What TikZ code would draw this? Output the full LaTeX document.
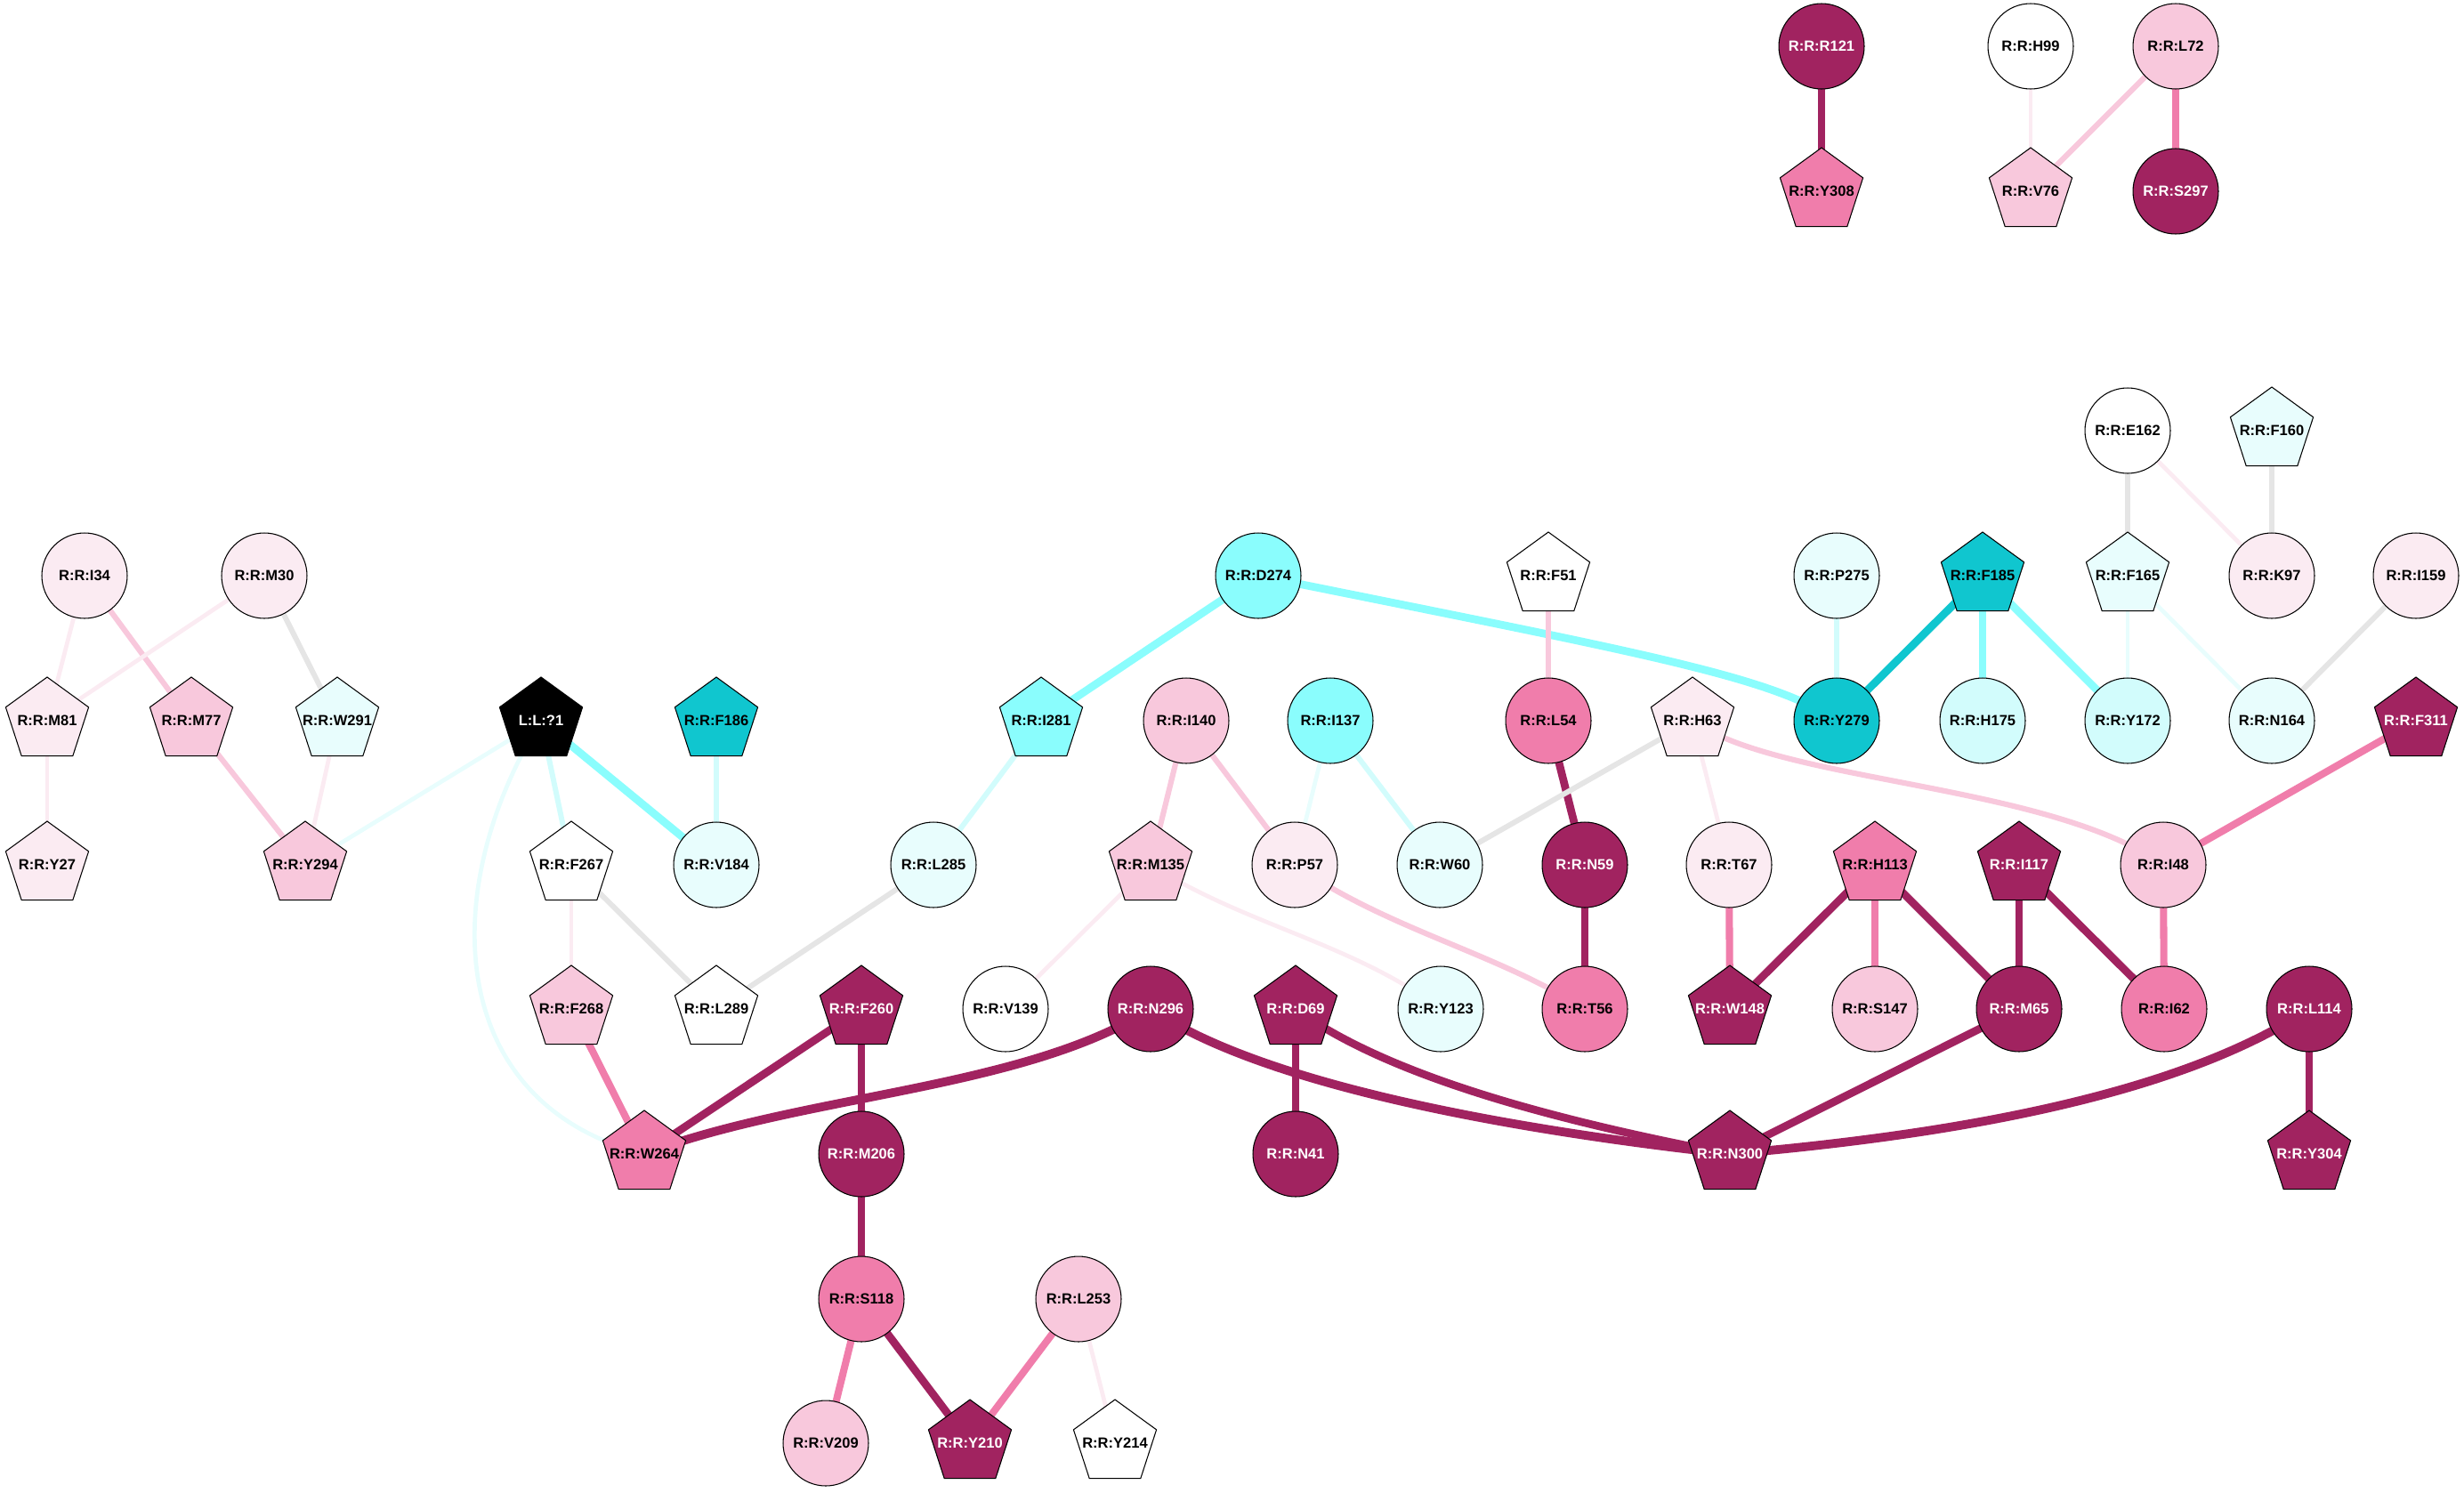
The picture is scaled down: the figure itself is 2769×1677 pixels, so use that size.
\documentclass[tikz,border=0pt]{standalone}
\usepackage{fontspec}
\setmainfont{Liberation Sans}
\usetikzlibrary{shapes.geometric,backgrounds}
\definecolor{dk}{HTML}{A12360}
\definecolor{md}{HTML}{F07DAB}
\definecolor{lt}{HTML}{F8C8DC}
\definecolor{vl}{HTML}{FBEBF2}
\definecolor{tl}{HTML}{10C6CF}
\definecolor{cy}{HTML}{8AFDFD}
\definecolor{lc}{HTML}{D2FCFC}
\definecolor{vc}{HTML}{E8FDFD}
\definecolor{gr}{HTML}{E5E5E5}
\newcommand\pl[1]{\makebox[0pt]{#1}}
\tikzset{res/.style = {circle, draw, line width=0.6pt, minimum size=1.92cm, inner sep=0pt,
                       font=\bfseries\fontsize{9.4}{11}\selectfont},
         pent/.style = {res, regular polygon, regular polygon sides=5, minimum size=1.96cm},
         wt/.style = {text=white},
         edk/.style = {draw=dk, line width=5pt},
         emd/.style = {draw=md, line width=4.6pt},
         elt/.style = {draw=lt, line width=3.5pt},
         evl/.style = {draw=vl, line width=2.7pt},
         ecy/.style = {draw=cy, line width=5pt},
         etl/.style = {draw=tl, line width=5pt},
         elc/.style = {draw=lc, line width=3.4pt},
         evc/.style = {draw=vc, line width=2.7pt},
         egr/.style = {draw=gr, line width=3.4pt}}

\begin{document}
\begin{tikzpicture}[x=0.02cm, y=-0.02cm]
\useasboundingbox (0,0) rectangle (2769,1677);
\node[res, fill=dk, wt] (r121) at (2047,52) {R:R:R121};
\node[res, fill=white] (h99) at (2282,52) {R:R:H99};
\node[res, fill=lt] (l72) at (2445,52) {R:R:L72};
\node[pent, fill=md] (y308) at (2047,215) {\pl{R:R:Y308}};
\node[pent, fill=lt] (v76) at (2282,215) {\pl{R:R:V76}};
\node[res, fill=dk, wt] (s297) at (2445,215) {R:R:S297};
\node[res, fill=white] (e162) at (2391,484) {R:R:E162};
\node[pent, fill=vc] (f160) at (2553,484) {\pl{R:R:F160}};
\node[res, fill=vl] (i34) at (95,647) {R:R:I34};
\node[res, fill=vl] (m30) at (297,647) {R:R:M30};
\node[res, fill=cy] (d274) at (1414,647) {R:R:D274};
\node[pent, fill=white] (f51) at (1740,647) {\pl{R:R:F51}};
\node[res, fill=vc] (p275) at (2064,647) {R:R:P275};
\node[pent, fill=tl] (f185) at (2228,647) {\pl{R:R:F185}};
\node[pent, fill=vc] (f165) at (2391,647) {\pl{R:R:F165}};
\node[res, fill=vl] (k97) at (2553,647) {R:R:K97};
\node[res, fill=vl] (i159) at (2715,647) {R:R:I159};
\node[pent, fill=vl] (m81) at (53,810) {\pl{R:R:M81}};
\node[pent, fill=lt] (m77) at (215,810) {\pl{R:R:M77}};
\node[pent, fill=vc] (w291) at (379,810) {\pl{R:R:W291}};
\node[pent, fill=black, wt] (lig) at (608,810) {\pl{L:L:?1}};
\node[pent, fill=tl] (f186) at (805,810) {\pl{R:R:F186}};
\node[pent, fill=cy] (i281) at (1170,810) {\pl{R:R:I281}};
\node[res, fill=lt] (i140) at (1333,810) {R:R:I140};
\node[res, fill=cy] (i137) at (1495,810) {R:R:I137};
\node[res, fill=md] (l54) at (1740,810) {R:R:L54};
\node[pent, fill=vl] (h63) at (1902,810) {\pl{R:R:H63}};
\node[res, fill=tl] (y279) at (2064,810) {R:R:Y279};
\node[res, fill=lc] (h175) at (2228,810) {R:R:H175};
\node[res, fill=lc] (y172) at (2391,810) {R:R:Y172};
\node[res, fill=vc] (n164) at (2553,810) {R:R:N164};
\node[pent, fill=dk, wt] (f311) at (2715,810) {\pl{R:R:F311}};
\node[pent, fill=vl] (y27) at (53,972) {\pl{R:R:Y27}};
\node[pent, fill=lt] (y294) at (343,972) {\pl{R:R:Y294}};
\node[pent, fill=white] (f267) at (642,972) {\pl{R:R:F267}};
\node[res, fill=vc] (v184) at (805,972) {R:R:V184};
\node[res, fill=vc] (l285) at (1049,972) {R:R:L285};
\node[pent, fill=lt] (m135) at (1293,972) {\pl{R:R:M135}};
\node[res, fill=vl] (p57) at (1455,972) {R:R:P57};
\node[res, fill=vc] (w60) at (1618,972) {R:R:W60};
\node[res, fill=dk, wt] (n59) at (1781,972) {R:R:N59};
\node[res, fill=vl] (t67) at (1943,972) {R:R:T67};
\node[pent, fill=md] (h113) at (2107,972) {\pl{R:R:H113}};
\node[pent, fill=dk, wt] (i117) at (2269,972) {\pl{R:R:I117}};
\node[res, fill=lt] (i48) at (2431,972) {R:R:I48};
\node[pent, fill=lt] (f268) at (642,1134) {\pl{R:R:F268}};
\node[pent, fill=white] (l289) at (805,1134) {\pl{R:R:L289}};
\node[pent, fill=dk, wt] (f260) at (968,1134) {\pl{R:R:F260}};
\node[res, fill=white] (v139) at (1130,1134) {R:R:V139};
\node[res, fill=dk, wt] (n296) at (1293,1134) {R:R:N296};
\node[pent, fill=dk, wt] (d69) at (1456,1134) {\pl{R:R:D69}};
\node[res, fill=vc] (y123) at (1619,1134) {R:R:Y123};
\node[res, fill=md] (t56) at (1781,1134) {R:R:T56};
\node[pent, fill=dk, wt] (w148) at (1944,1134) {\pl{R:R:W148}};
\node[res, fill=lt] (s147) at (2107,1134) {R:R:S147};
\node[res, fill=dk, wt] (m65) at (2269,1134) {R:R:M65};
\node[res, fill=md] (i62) at (2432,1134) {R:R:I62};
\node[res, fill=dk, wt] (l114) at (2595,1134) {R:R:L114};
\node[pent, fill=md] (w264) at (724,1297) {\pl{R:R:W264}};
\node[res, fill=dk, wt] (m206) at (968,1297) {R:R:M206};
\node[res, fill=dk, wt] (n41) at (1456,1297) {R:R:N41};
\node[pent, fill=dk, wt] (n300) at (1944,1297) {\pl{R:R:N300}};
\node[pent, fill=dk, wt] (y304) at (2595,1297) {\pl{R:R:Y304}};
\node[res, fill=md] (s118) at (968,1460) {R:R:S118};
\node[res, fill=lt] (l253) at (1212,1460) {R:R:L253};
\node[res, fill=lt] (v209) at (928,1622) {R:R:V209};
\node[pent, fill=dk, wt] (y210) at (1090,1622) {\pl{R:R:Y210}};
\node[pent, fill=white] (y214) at (1253,1622) {\pl{R:R:Y214}};
\begin{pgfonlayer}{background}
\draw[edk] (r121.center) -- (y308.center);
\draw[evl] (h99.center) -- (v76.center);
\draw[elt] (l72.center) -- (v76.center);
\draw[emd] (l72.center) -- (s297.center);
\draw[egr] (e162.center) -- (f165.center);
\draw[evl] (e162.center) -- (k97.center);
\draw[egr] (f160.center) -- (k97.center);
\draw[evl] (i34.center) -- (m81.center);
\draw[elt] (i34.center) -- (m77.center);
\draw[evl] (m30.center) -- (m81.center);
\draw[egr] (m30.center) -- (w291.center);
\draw[evl] (m81.center) -- (y27.center);
\draw[elt] (m77.center) -- (y294.center);
\draw[evl] (w291.center) -- (y294.center);
\draw[evc] (lig.center) -- (y294.center);
\draw[elc] (lig.center) -- (f267.center);
\draw[ecy] (lig.center) -- (v184.center);
\draw[evc] (lig.center) .. controls (490,1000) and (500,1240) .. (w264.center);
\draw[elc] (f186.center) -- (v184.center);
\draw[ecy] (d274.center) -- (i281.center);
\draw[ecy] (d274.center) .. controls (1850,735) and (1990,760) .. (y279.center);
\draw[elc] (i281.center) -- (l285.center);
\draw[egr] (l285.center) -- (l289.center);
\draw[egr] (f267.center) -- (l289.center);
\draw[evl] (f267.center) -- (f268.center);
\draw[emd] (f268.center) -- (w264.center);
\draw[edk] (f260.center) -- (w264.center);
\draw[edk, line width=5.6pt] (n296.center) .. controls (1150,1225) and (900,1230) .. (w264.center);
\draw[edk] (f260.center) -- (m206.center);
\draw[edk] (m206.center) -- (s118.center);
\draw[emd] (s118.center) -- (v209.center);
\draw[edk] (s118.center) -- (y210.center);
\draw[emd] (l253.center) -- (y210.center);
\draw[evl] (l253.center) -- (y214.center);
\draw[elt] (i140.center) -- (m135.center);
\draw[elt] (i140.center) -- (p57.center);
\draw[evl] (m135.center) -- (v139.center);
\draw[evl] (m135.center) .. controls (1400,1040) and (1520,1060) .. (y123.center);
\draw[evc] (i137.center) -- (p57.center);
\draw[elc] (i137.center) -- (w60.center);
\draw[elt] (p57.center) .. controls (1560,1045) and (1680,1070) .. (t56.center);
\draw[elt] (f51.center) -- (l54.center);
\draw[edk] (l54.center) -- (n59.center);
\draw[edk] (n59.center) -- (t56.center);
\draw[egr] (h63.center) -- (w60.center);
\draw[evl] (h63.center) -- (t67.center);
\draw[elt] (h63.center) .. controls (2000,880) and (2300,880) .. (i48.center);
\draw[edk, line width=5.6pt] (n296.center) .. controls (1420,1220) and (1700,1270) .. (n300.center);
\draw[edk] (d69.center) -- (n41.center);
\draw[edk] (d69.center) .. controls (1560,1210) and (1750,1260) .. (n300.center);
\draw[elc] (p275.center) -- (y279.center);
\draw[etl] (f185.center) -- (y279.center);
\draw[ecy] (f185.center) -- (h175.center);
\draw[ecy] (f185.center) -- (y172.center);
\draw[evc] (f165.center) -- (y172.center);
\draw[evc] (f165.center) -- (n164.center);
\draw[egr] (i159.center) -- (n164.center);
\draw[emd] (f311.center) -- (i48.center);
\draw[emd] (t67.center) -- (w148.center);
\draw[edk] (h113.center) -- (w148.center);
\draw[emd] (h113.center) -- (s147.center);
\draw[edk] (h113.center) -- (m65.center);
\draw[edk] (i117.center) -- (m65.center);
\draw[edk] (i117.center) -- (i62.center);
\draw[emd] (i48.center) -- (i62.center);
\draw[edk] (m65.center) -- (n300.center);
\draw[edk, line width=5.6pt] (l114.center) .. controls (2450,1230) and (2200,1275) .. (n300.center);
\draw[edk] (l114.center) -- (y304.center);
\end{pgfonlayer}
\end{tikzpicture}
\end{document}
